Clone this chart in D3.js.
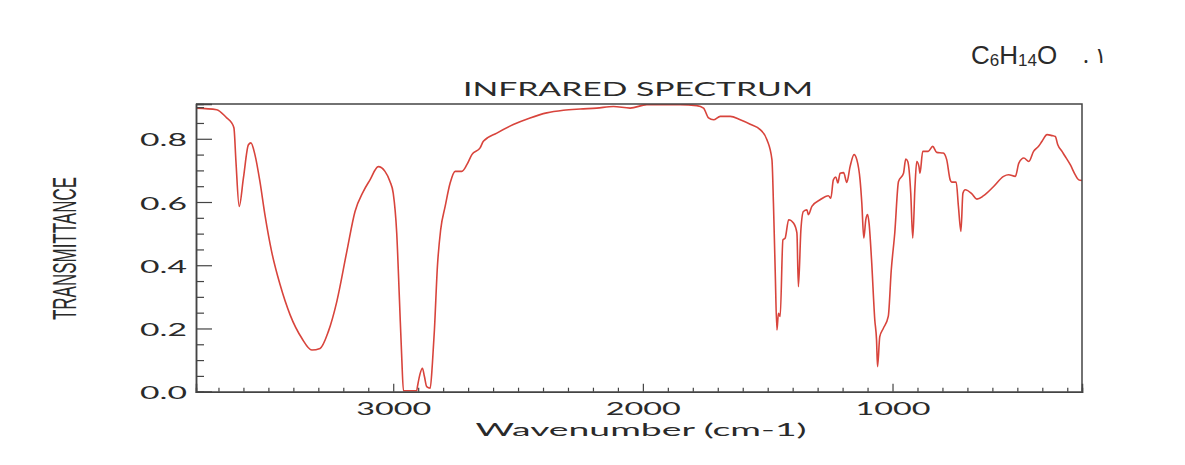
<!DOCTYPE html>
<html>
<head>
<meta charset="utf-8">
<script src="https://cdn.jsdelivr.net/npm/d3@7"></script>
<style>
	body { margin: 0; background: #fff; }
	svg text { font-family: Lato, "Open Sans", sans-serif; fill: #2a2a2a; }
</style>
</head>
<body>
<div id="chart"></div>
<script>
// spectrum trace
var wavenumber = [3790, 3707, 3667, 3647, 3638, 3630, 3617, 3600, 3580, 3570, 3554, 3534, 3514, 3487, 3453, 3413,
	3366, 3326, 3293, 3260, 3226, 3186, 3153, 3120, 3093, 3060, 3033, 3013, 3000, 2986, 2975, 2966, 2959, 2933,
	2906, 2903, 2892, 2883, 2875, 2866, 2852, 2843, 2835, 2823, 2810, 2792, 2772, 2752, 2725, 2705, 2685, 2652,
	2639, 2585, 2519, 2452, 2385, 2318, 2251, 2185, 2118, 2051, 1984, 1918, 1851, 1784, 1757, 1737, 1717, 1690,
	1650, 1610, 1570, 1530, 1503, 1483, 1477, 1470, 1463, 1457, 1450, 1439, 1430, 1416, 1396, 1383, 1377, 1367,
	1357, 1343, 1337, 1323, 1290, 1257, 1247, 1237, 1227, 1219, 1210, 1196, 1183, 1170, 1154, 1143, 1130, 1123,
	1115, 1107, 1100, 1094, 1084, 1071, 1064, 1060, 1051, 1037, 1017, 1005, 991, 976, 956, 947, 939, 927, 919,
	910, 903, 894, 890, 879, 857, 839, 823, 797, 783, 769, 763, 745, 736, 726, 718, 709, 682, 662, 635, 595, 555,
	535, 508, 494, 474, 454, 435, 415, 401, 381, 361, 348, 338, 321, 308, 288, 268, 254, 241];

var transmittance = [0.897, 0.892, 0.866, 0.850, 0.834, 0.728, 0.586, 0.676, 0.781, 0.787, 0.750, 0.665, 0.560, 0.443, 0.338, 0.243,
	0.169, 0.132, 0.137, 0.190, 0.285, 0.443, 0.570, 0.633, 0.670, 0.712, 0.697, 0.665, 0.628, 0.502, 0.290, 0.111, 0.003, 0.003,
	0.003, 0.016, 0.058, 0.074, 0.048, 0.016, 0.011, 0.090, 0.195, 0.396, 0.512, 0.586, 0.660, 0.697, 0.697, 0.718, 0.750, 0.771,
	0.792, 0.818, 0.845, 0.866, 0.882, 0.890, 0.894, 0.897, 0.902, 0.897, 0.908, 0.908, 0.908, 0.905, 0.897, 0.866, 0.860, 0.871,
	0.871, 0.860, 0.846, 0.829, 0.797, 0.734, 0.597, 0.385, 0.195, 0.248, 0.238, 0.480, 0.486, 0.544, 0.533, 0.502, 0.332, 0.512,
	0.570, 0.575, 0.560, 0.586, 0.607, 0.620, 0.612, 0.670, 0.679, 0.660, 0.691, 0.693, 0.662, 0.712, 0.750, 0.734, 0.670, 0.597,
	0.486, 0.544, 0.560, 0.533, 0.417, 0.227, 0.164, 0.079, 0.174, 0.200, 0.238, 0.385, 0.502, 0.665, 0.691, 0.736, 0.728, 0.628, 0.486,
	0.649, 0.728, 0.712, 0.691, 0.760, 0.760, 0.776, 0.757, 0.755, 0.734, 0.670, 0.663, 0.663, 0.586, 0.507, 0.628, 0.639, 0.626, 0.609, 0.620, 0.649, 0.681,
	0.686, 0.681, 0.723, 0.739, 0.728, 0.760, 0.776, 0.792, 0.813, 0.810, 0.807, 0.781, 0.760, 0.744, 0.718, 0.686, 0.670, 0.668];

var xMajorTicks = [3000, 2000, 1000];
var yMajorTicks = [0.0, 0.2, 0.4, 0.6, 0.8];

function renderSpectrum() {
	var left = 196, right = 1082, top = 104, bottom = 391.7;

	var svg = d3.select("#chart")
		.append("svg")
		.attr("width", 1185)
		.attr("height", 465);

	var x = d3.scaleLinear().domain([3790, 241]).range([left, right]);
	var y = d3.scaleLinear().domain([0, 0.91]).range([bottom, top]);

	var data = wavenumber.map(function (w, i) {
		return { wn: w, t: transmittance[i] };
	});

	svg.append("clipPath")
		.attr("id", "plotClip")
		.append("rect")
		.attr("x", left)
		.attr("y", top)
		.attr("width", right - left)
		.attr("height", bottom - top + 1);

	// spectrum line
	var line = d3.line()
		.curve(d3.curveMonotoneX)
		.x(function (d) { return x(d.wn); })
		.y(function (d) { return y(d.t); });

	svg.append("path")
		.datum(data)
		.attr("clip-path", "url(#plotClip)")
		.attr("fill", "none")
		.attr("stroke", "#d8443c")
		.attr("stroke-width", 1.6)
		.attr("stroke-linejoin", "round")
		.attr("d", line);

	// frame (top + right)
	svg.append("path")
		.attr("d", "M" + left + "," + top + "H" + right + "V" + bottom)
		.attr("fill", "none")
		.attr("stroke", "#444")
		.attr("stroke-width", 1.5);

	// x axis, ticks pointing inward
	var xMinor = d3.range(300, 3800, 100).filter(function (d) { return xMajorTicks.indexOf(d) < 0; });
	svg.append("g")
		.attr("transform", "translate(0," + bottom + ")")
		.call(d3.axisBottom(x).tickValues(xMinor).tickSize(-4).tickFormat(""));
	svg.append("g")
		.attr("class", "xmajor")
		.attr("transform", "translate(0," + bottom + ")")
		.call(d3.axisBottom(x).tickValues(xMajorTicks).tickSize(-8).tickPadding(11).tickFormat(d3.format("d")));

	// y axis, ticks pointing inward
	var yMinor = d3.range(0.05, 0.91, 0.05).filter(function (d) { return Math.abs(Math.round(d * 5) - d * 5) > 0.01; });
	svg.append("g")
		.attr("transform", "translate(" + left + ",0)")
		.call(d3.axisLeft(y).tickValues(yMinor).tickSize(-8).tickFormat(""));
	svg.append("g")
		.attr("class", "ymajor")
		.attr("transform", "translate(" + left + ",0)")
		.call(d3.axisLeft(y).tickValues(yMajorTicks).tickSize(-16).tickPadding(26).tickFormat(d3.format(".1f")));

	svg.selectAll(".domain")
		.attr("stroke", "#444")
		.attr("stroke-width", 1.5);
	svg.selectAll(".tick line")
		.attr("stroke", "#444")
		.attr("stroke-width", 1.2);

	// stretched tick labels like the picture
	svg.selectAll(".xmajor .tick text")
		.attr("font-size", 17.5)
		.attr("fill", "#2a2a2a")
		.attr("textLength", 75)
		.attr("lengthAdjust", "spacingAndGlyphs");
	svg.selectAll(".ymajor .tick text")
		.attr("font-size", 17)
		.attr("fill", "#2a2a2a")
		.attr("x", -9)
		.attr("dy", "0.42em")
		.attr("textLength", 47)
		.attr("lengthAdjust", "spacingAndGlyphs");

	// titles
	svg.append("text")
		.attr("x", 638)
		.attr("y", 96)
		.attr("text-anchor", "middle")
		.style("font-size", "18.5px")
		.attr("textLength", 350)
		.attr("lengthAdjust", "spacingAndGlyphs")
		.text("INFRARED SPECTRUM");

	svg.append("text")
		.attr("x", 641)
		.attr("y", 435.5)
		.attr("text-anchor", "middle")
		.style("font-size", "17.5px")
		.attr("textLength", 331)
		.attr("lengthAdjust", "spacingAndGlyphs")
		.text("Wavenumber (cm-1)");

	svg.append("text")
		.attr("transform", "translate(76,248.5) rotate(-90)")
		.attr("text-anchor", "middle")
		.style("font-family", "'Liberation Sans Narrow', 'Liberation Sans', sans-serif")
		.style("font-size", "34px")
		.attr("textLength", 143)
		.attr("lengthAdjust", "spacingAndGlyphs")
		.text("TRANSMITTANCE");

	// formula label, top right
	var formula = svg.append("text")
		.attr("x", 971)
		.attr("y", 64)
		.style("font-family", "'Liberation Sans', sans-serif")
		.style("font-size", "26px");
	formula.append("tspan").text("C");
	formula.append("tspan").attr("dy", 2).style("font-size", "17px").text("6");
	formula.append("tspan").attr("dy", -2).text("H");
	formula.append("tspan").attr("dy", 2).style("font-size", "17px").text("14");
	formula.append("tspan").attr("dy", -2).text("O");

	svg.append("text")
		.attr("x", 1083)
		.attr("y", 63)
		.style("font-family", "'Noto Sans', 'DejaVu Sans', sans-serif")
		.style("font-size", "22px")
		.text(".\u00a0\u0661");
}

renderSpectrum();
</script>
</body>
</html>
